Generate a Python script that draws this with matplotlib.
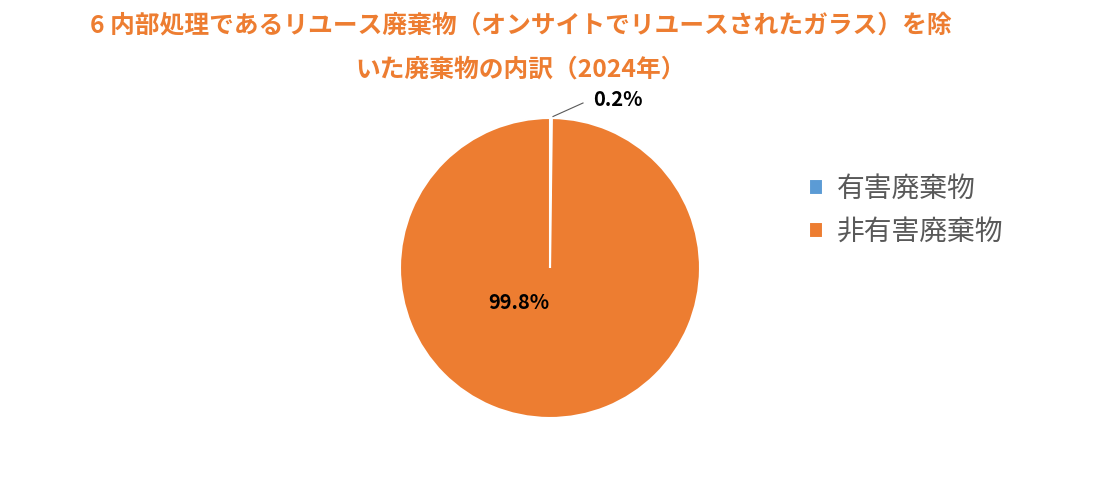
import matplotlib.pyplot as plt

plt.rcParams['font.family'] = ['Noto Sans CJK JP', 'DejaVu Sans']

labels = ['有害廃棄物', '非有害廃棄物']
values = [0.2, 99.8]
colors = ['#5B9BD5', '#ED7D31']
title_lines = ['6 内部処理であるリユース廃棄物（オンサイトでリユースされたガラス）を除',
               'いた廃棄物の内訳（2024年）']

fig = plt.figure(figsize=(11, 4.9), dpi=100)

# pie: centre (550, 268) px, radius 150 px
ax = fig.add_axes([400 / 1100, (490 - 418) / 490, 300 / 1100, 300 / 490])
wedges, _ = ax.pie(values, colors=colors, startangle=90, counterclock=False,
                   wedgeprops={'edgecolor': 'white', 'linewidth': 1.5})
ax.set_xlim(-1, 1)
ax.set_ylim(-1, 1)
ax.set_aspect('equal')

# small slice label with leader line
ax.plot([0.02, 0.22], [1.01, 1.10], color='#595959', lw=0.8, clip_on=False)
ax.text(0.287, 1.12, f'{values[0]:.1f}%', fontsize=14.5, fontweight='bold',
        ha='left', va='center')
ax.text(-0.21, -0.23, f'{values[1]:.1f}%', fontsize=14.5, fontweight='bold',
        ha='center', va='center')

for i, line in enumerate(title_lines):
    fig.text(521 / 1100, 1 - (25 + 45 * i) / 490, line, ha='center', va='center',
             fontsize=17.8, fontweight='bold', color='#ED7D31')

fig.legend(wedges, labels, loc='upper left', bbox_to_anchor=(784 / 1100, 1 - 149 / 490),
           frameon=False, fontsize=20, handlelength=0.5, handleheight=0.5,
           handletextpad=0.5, labelspacing=0.45, labelcolor='#595959')

fig.savefig('out.png', dpi=100)
